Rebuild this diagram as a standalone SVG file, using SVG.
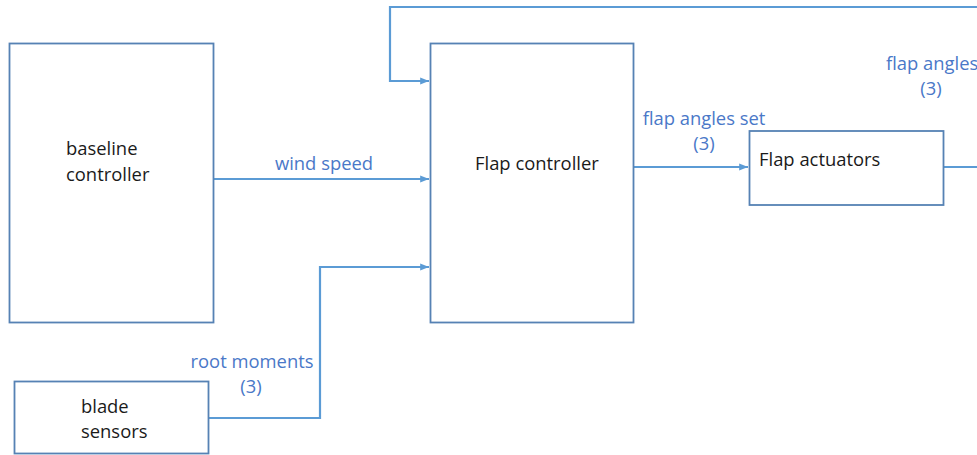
<svg xmlns="http://www.w3.org/2000/svg" width="977" height="455" viewBox="0 0 977 455">
<style>
.box{fill:#fff;stroke:#5682b4;stroke-width:1.8}
.lbl{font-family:"Open Sans","Liberation Sans",Arial,sans-serif;font-size:18.4px;fill:#1a1a1a}
.sig{font-family:"Open Sans","Liberation Sans",Arial,sans-serif;font-size:18.4px;fill:#4a78c8}
.wire{fill:none;stroke:#5b9bd5;stroke-width:2.2}
</style>
<defs>
<marker id="ah" viewBox="0 0 10 10" refX="10" refY="5" markerWidth="4" markerHeight="4" orient="auto" markerUnits="strokeWidth">
<path d="M0,1 L10,5 L0,9 z" fill="#5b9bd5"/>
</marker>
</defs>
<rect width="977" height="455" fill="#fff"/>
<g id="connectors">
<path class="wire" d="M977,7 H390 V81 H429" marker-end="url(#ah)"/>
<path class="wire" d="M214,179 H429" marker-end="url(#ah)"/>
<path class="wire" d="M208,418 H320 V267 H429" marker-end="url(#ah)"/>
<path class="wire" d="M633,167 H748" marker-end="url(#ah)"/>
<path class="wire" d="M943,167 H977"/>
<text class="sig" x="324" y="170" text-anchor="middle">wind speed</text>
<text class="sig" x="704" y="125" text-anchor="middle">flap angles set</text>
<text class="sig" x="704" y="150" text-anchor="middle">(3)</text>
<text class="sig" x="886" y="70">flap angles</text>
<text class="sig" x="931" y="95" text-anchor="middle">(3)</text>
<text class="sig" x="252" y="368" text-anchor="middle">root moments</text>
<text class="sig" x="251" y="393" text-anchor="middle">(3)</text>
</g>
<g id="baseline-controller">
<rect class="box" x="9.5" y="43.5" width="204" height="279"/>
<text class="lbl" x="66" y="155">baseline</text>
<text class="lbl" x="66" y="181">controller</text>
</g>
<g id="flap-controller">
<rect class="box" x="430.5" y="43.5" width="203" height="279"/>
<text class="lbl" x="475" y="170">Flap controller</text>
</g>
<g id="flap-actuators">
<rect class="box" x="749.5" y="131" width="194" height="74"/>
<text class="lbl" x="759" y="166">Flap actuators</text>
</g>
<g id="blade-sensors">
<rect class="box" x="14.5" y="381.5" width="194" height="72"/>
<text class="lbl" x="81" y="413">blade</text>
<text class="lbl" x="81" y="438">sensors</text>
</g>
</svg>
